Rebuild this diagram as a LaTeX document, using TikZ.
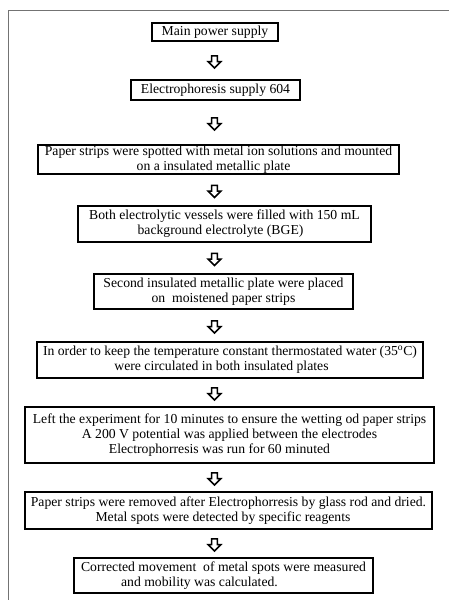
\documentclass[tikz,border=0pt]{standalone}
\usepackage{fontspec}
\setmainfont{Liberation Serif}
\usetikzlibrary{shapes.arrows,calc}

\tikzset{
  etape/.style={draw=black, line width=1.8pt, align=center, inner sep=0pt,
    font=\fontsize{13.7}{15}\selectfont, text=black},
  fleche/.style={single arrow, draw=black, line width=1.5pt, fill=white,
    shape border rotate=270, inner sep=2.2pt, minimum height=12pt,
    minimum width=12.5pt, single arrow head extend=3.4pt, single arrow head indent=0pt}
}

\begin{document}
\begin{tikzpicture}[x=1pt,y=-1pt]

% cadre de la page
\useasboundingbox (0,0) rectangle (449,600);
\draw[color=black!55, line width=1.6pt] (8.5,600) -- (8.5,10.5) -- (449,10.5);

% axe des fleches
\coordinate (axe) at (214.5,0);

% les etapes
\node[etape, minimum width=126, minimum height=18] (alim) at (215,32) {Main power supply};
\node[etape, minimum width=169, minimum height=20] (electro) at (215.5,90) {Electrophoresis supply 604};
\node[etape, minimum width=361, minimum height=29] (papier) at (218.5,159.5)
  {Paper strips were spotted with metal ion solutions and mounted\\on a insulated metallic plate\hspace*{10pt}};
\node[etape, minimum width=293, minimum height=36] (cuves) at (224.5,224)
  {Both electrolytic vessels were filled with 150 mL\\background electrolyte (BGE)\hspace*{8pt}};
\node[etape, minimum width=259, minimum height=35] (plaque) at (223.5,291.5)
  {Second insulated metallic plate were placed\\on~ moistened paper strips};
\node[etape, minimum width=386, minimum height=36] (eau) at (230,360)
  {In order to keep the temperature constant thermostated water (35\textsuperscript{o}C)\\were circulated in both insulated plates\hspace*{17pt}};
\node[etape, minimum width=409, minimum height=56] (essai) at (229.5,435)
  {Left the experiment for 10 minutes to ensure the wetting od paper strips\\A 200 V potential was applied between the electrodes\hspace*{34pt}\\Electrophorresis was run for 60 minuted\hspace*{20pt}};
\node[etape, minimum width=407, minimum height=37] (sechage) at (228.5,510.5)
  {Paper strips were removed after Electrophorresis by glass rod and dried.\\Metal spots were detected by specific reagents\hspace*{11pt}};
\node[etape, minimum width=299, minimum height=35] (mobilite) at (223.5,575.5)
  {Corrected movement~ of metal spots were measured\\and mobility was calculated.\hspace*{48pt}};

% les fleches entre les etapes
\foreach \a/\b [count=\i] in {alim/electro,electro/papier,papier/cuves,cuves/plaque,plaque/eau,eau/essai,essai/sechage,sechage/mobilite}
  {\node[fleche] (f\i) at (axe |- {$(\a.south)!0.5!(\b.north)$}) {};}

\end{tikzpicture}
\end{document}
